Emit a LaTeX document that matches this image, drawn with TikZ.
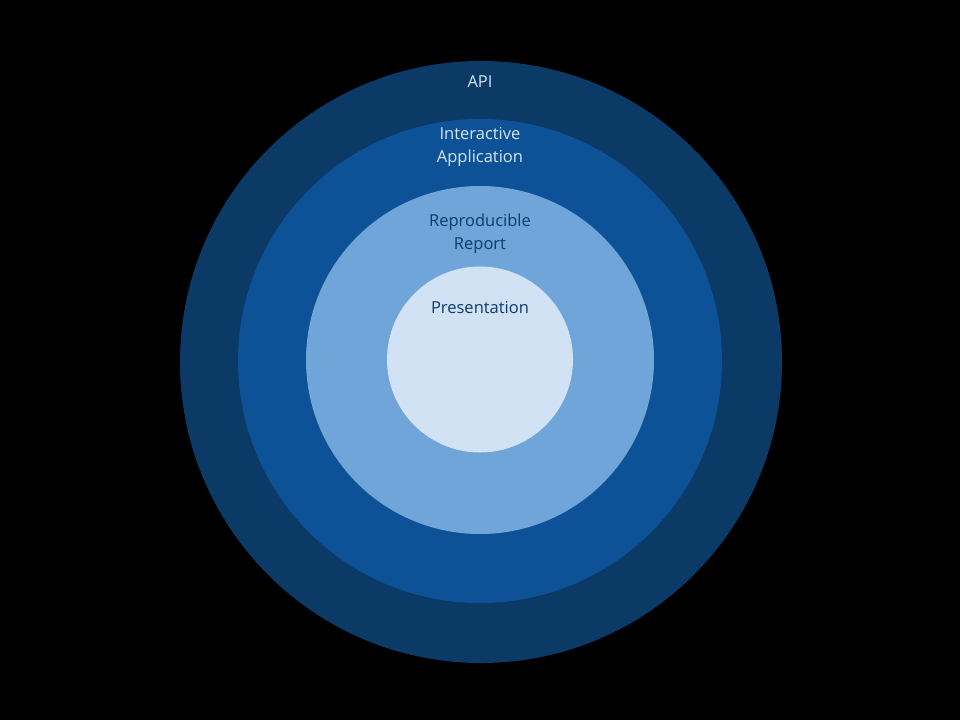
\documentclass[tikz,border=0pt]{standalone}
\usepackage{fontspec}
\setmainfont{Open Sans}
\definecolor{ringA}{HTML}{0B3A66}
\definecolor{ringB}{HTML}{0D5296}
\definecolor{ringC}{HTML}{6FA5D8}
\definecolor{ringD}{HTML}{D0E2F3}
\definecolor{lighttext}{HTML}{D6E5F4}
\definecolor{darktext}{HTML}{0D3B6B}
\begin{document}
\begin{tikzpicture}[x=1pt,y=-1pt,
  ring/.style={circle,inner sep=0pt,draw=none},
  lbl/.style={font=\fontsize{16.5}{23}\selectfont,align=center,inner sep=0pt}]
\fill[black] (0,0) rectangle (960,720);
\useasboundingbox (0,0) rectangle (960,720);
\node[ring,fill=ringA,minimum size=602pt] (api) at (481,362) {};
\node[ring,fill=ringB,minimum size=484pt] (app) at (480,361) {};
\node[ring,fill=ringC,minimum size=348pt] (rep) at (480,360) {};
\node[ring,fill=ringD,minimum size=186pt] (pres) at (480,359.5) {};
\node[lbl,text=lighttext] (tapi) at (480,82) {API};
\node[lbl,text=lighttext] (tapp) at (480,147) {Interactive\\Application};
\node[lbl,text=darktext] (trep) at (480,234) {Reproducible\\Report};
\node[lbl,text=darktext] (tpres) at (480,308) {Presentation};
\end{tikzpicture}
\end{document}
